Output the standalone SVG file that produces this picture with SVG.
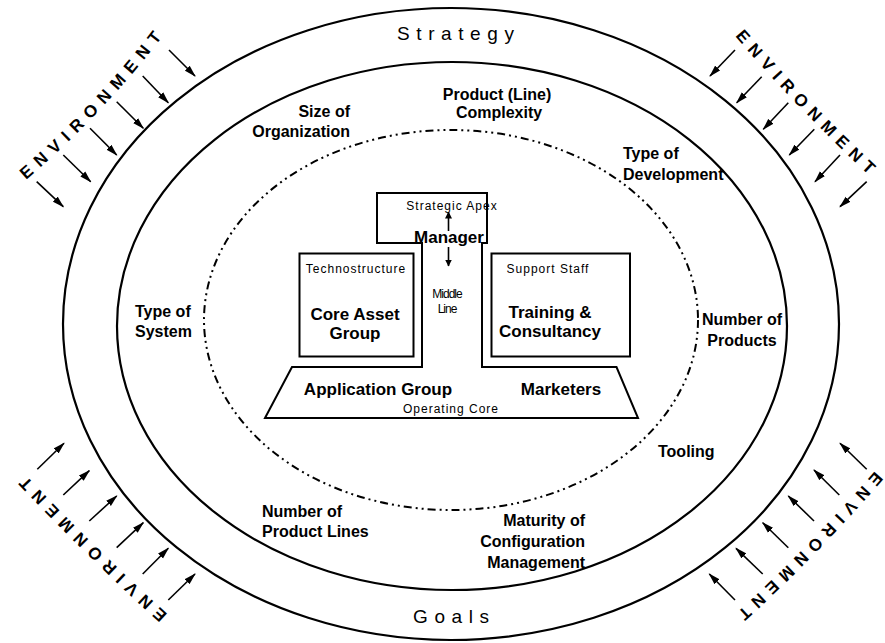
<svg xmlns="http://www.w3.org/2000/svg" width="885" height="643" viewBox="0 0 885 643">
  <defs>
    <marker id="head" markerUnits="userSpaceOnUse" markerWidth="12" markerHeight="8" refX="11" refY="4" orient="auto">
      <path d="M0,0.5 L12,4 L0,7.5 z" fill="#000"/>
    </marker>
    <marker id="head-small" markerUnits="userSpaceOnUse" markerWidth="7" markerHeight="7" refX="6.5" refY="3.5" orient="auto">
      <path d="M0,0 L7,3.5 L0,7 z" fill="#000"/>
    </marker>
    <path id="env-tl" d="M26,180 Q102.9,114.3 164.5,34"/>
    <path id="env-tr" d="M735,36 Q800,111.5 872,178"/>
    <path id="env-bl" d="M167.8,614.3 Q92.3,545.7 22.3,471.6"/>
    <path id="env-br" d="M875,471 Q809,547 735,614.4"/>
  </defs>
  <style>
    .ring { fill: none; stroke: #000; stroke-width: 2.2; }
    .dashdot { fill: none; stroke: #000; stroke-width: 2; stroke-dasharray: 8 4 2 4 2 4; }
    .box { fill: none; stroke: #000; stroke-width: 2; }
    .env { font-family: "Liberation Sans", Arial, sans-serif; font-weight: bold; font-size: 17px; letter-spacing: 7.2px; fill: #000; }
    .ring-label { font-family: "Liberation Sans", Arial, sans-serif; font-size: 19px; letter-spacing: 6.6px; fill: #000; }
    .factor { font-family: "Liberation Sans", Arial, sans-serif; font-weight: bold; font-size: 16px; fill: #000; }
    .title { font-family: "Liberation Sans", Arial, sans-serif; font-weight: bold; font-size: 17px; fill: #000; text-anchor: middle; }
    .part { font-family: "Liberation Sans", Arial, sans-serif; font-size: 12px; letter-spacing: 1px; fill: #000; text-anchor: middle; }
    .arrow { stroke: #000; stroke-width: 1.6; fill: none; marker-end: url(#head); }
    .arrow-small { stroke: #000; stroke-width: 1.6; fill: none; marker-end: url(#head-small); }
  </style>
  <rect width="885" height="643" fill="#fff"/>

  <!-- concentric context rings -->
  <g id="rings">
    <ellipse class="ring" cx="451" cy="324" rx="388" ry="316"/>
    <ellipse class="ring" cx="452" cy="326" rx="335" ry="264"/>
    <ellipse class="dashdot" cx="451" cy="320" rx="247" ry="190"/>
  </g>

  <!-- ring labels -->
  <g id="ring-labels">
    <text class="ring-label" x="397" y="40">Strategy</text>
    <text class="ring-label" x="413" y="623">Goals</text>
  </g>

  <!-- environment labels around the outside -->
  <g id="environment">
    <text class="env"><textPath href="#env-tl">ENVIRONMENT</textPath></text>
    <text class="env" style="letter-spacing:6.7px"><textPath href="#env-tr">ENVIRONMENT</textPath></text>
    <text class="env"><textPath href="#env-bl">ENVIRONMENT</textPath></text>
    <text class="env"><textPath href="#env-br">ENVIRONMENT</textPath></text>
  </g>

  <!-- contingency factors -->
  <g id="factors">
    <text class="factor" x="350" y="117" text-anchor="end">Size of</text>
    <text class="factor" x="350" y="137" text-anchor="end">Organization</text>
    <text class="factor" x="497" y="100" text-anchor="middle">Product (Line)</text>
    <text class="factor" x="499" y="118" text-anchor="middle">Complexity</text>
    <text class="factor" x="623" y="159">Type of</text>
    <text class="factor" x="623" y="180">Development</text>
    <text class="factor" x="135" y="317">Type of</text>
    <text class="factor" x="135" y="337">System</text>
    <text class="factor" x="742" y="325" text-anchor="middle">Number of</text>
    <text class="factor" x="742" y="346" text-anchor="middle">Products</text>
    <text class="factor" x="658" y="457">Tooling</text>
    <text class="factor" x="262" y="517">Number of</text>
    <text class="factor" x="262" y="537">Product Lines</text>
    <text class="factor" x="585" y="526" text-anchor="end">Maturity of</text>
    <text class="factor" x="585" y="547" text-anchor="end">Configuration</text>
    <text class="factor" x="585" y="568" text-anchor="end">Management</text>
  </g>

  <!-- organisation: apex, middle line and operating core as one outline -->
  <g id="core-structure">
    <path class="box" d="M292,367 L265,418 H638 L616.5,367 H482 V243 H487 V193 H377 V243 H422 V367 Z"/>
    <text class="part" x="452" y="210">Strategic Apex</text>
    <text class="title" x="449" y="243">Manager</text>
    <text class="part" x="447" y="298" style="letter-spacing:-1px">Middle</text>
    <text class="part" x="447" y="313" style="letter-spacing:-1px">Line</text>
    <text class="title" x="378" y="395">Application Group</text>
    <text class="title" x="561" y="395">Marketers</text>
    <text class="part" x="451" y="413">Operating Core</text>
  </g>

  <g id="technostructure">
    <rect class="box" x="299.5" y="253.5" width="114" height="103"/>
    <text class="part" x="356" y="273">Technostructure</text>
    <text class="title" x="355" y="320">Core Asset</text>
    <text class="title" x="355" y="339">Group</text>
  </g>

  <g id="support-staff">
    <rect class="box" x="491.5" y="253.5" width="138.5" height="103"/>
    <text class="part" x="548" y="273">Support Staff</text>
    <text class="title" x="550" y="318">Training &amp;</text>
    <text class="title" x="550" y="337">Consultancy</text>
  </g>

  <!-- connectors -->
  <g id="connectors">
    <line class="arrow-small" x1="448.5" y1="231" x2="448.5" y2="212"/>
    <line class="arrow-small" x1="448.5" y1="247" x2="448.5" y2="266"/>

    <line class="arrow" x1="36.7" y1="181.7" x2="63.3" y2="206.7"/>
    <line class="arrow" x1="63.3" y1="155" x2="90.7" y2="181.7"/>
    <line class="arrow" x1="90" y1="128.3" x2="116.7" y2="155"/>
    <line class="arrow" x1="116.7" y1="101.7" x2="143.3" y2="128.3"/>
    <line class="arrow" x1="142.7" y1="76" x2="168.3" y2="102.7"/>
    <line class="arrow" x1="169" y1="50" x2="195" y2="76"/>

    <line class="arrow" x1="735" y1="50" x2="710" y2="76"/>
    <line class="arrow" x1="761.7" y1="76.7" x2="736.7" y2="102.7"/>
    <line class="arrow" x1="788.3" y1="102.7" x2="763.3" y2="129.3"/>
    <line class="arrow" x1="814.3" y1="129.3" x2="789.3" y2="155"/>
    <line class="arrow" x1="840" y1="155" x2="815" y2="181.7"/>
    <line class="arrow" x1="866.7" y1="181.7" x2="840" y2="206.7"/>

    <line class="arrow" x1="37.3" y1="469.3" x2="64" y2="443.3"/>
    <line class="arrow" x1="63.3" y1="495" x2="89.3" y2="470.7"/>
    <line class="arrow" x1="89.3" y1="521" x2="116.7" y2="496"/>
    <line class="arrow" x1="116.7" y1="547.7" x2="143.3" y2="522.7"/>
    <line class="arrow" x1="142.7" y1="574" x2="168.3" y2="548.3"/>
    <line class="arrow" x1="168.3" y1="600" x2="195" y2="574"/>

    <line class="arrow" x1="866.7" y1="469.3" x2="840" y2="443.3"/>
    <line class="arrow" x1="839.3" y1="495" x2="814" y2="470"/>
    <line class="arrow" x1="814" y1="521" x2="788.3" y2="496"/>
    <line class="arrow" x1="788.3" y1="547.7" x2="762.7" y2="522.7"/>
    <line class="arrow" x1="762.7" y1="574" x2="736" y2="548.3"/>
    <line class="arrow" x1="735" y1="600" x2="709.3" y2="574"/>
  </g>
</svg>
